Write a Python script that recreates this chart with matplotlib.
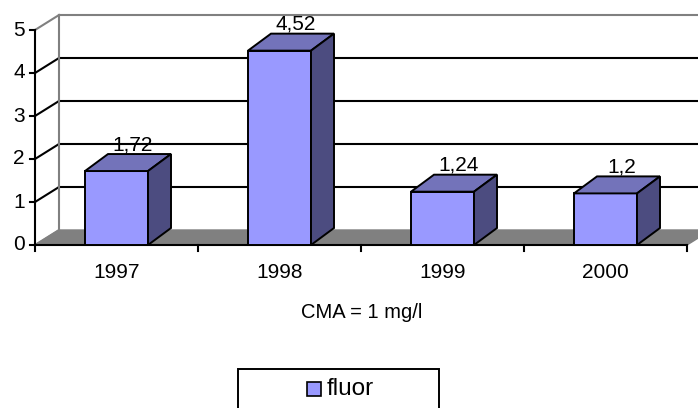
import matplotlib
matplotlib.use("Agg")
import matplotlib.pyplot as plt
from matplotlib.patches import Polygon, Rectangle

categories = ["1997", "1998", "1999", "2000"]
values = [1.72, 4.52, 1.24, 1.2]
value_labels = ["1,72", "4,52", "1,24", "1,2"]
yticks = [0, 1, 2, 3, 4, 5]
series_name = "fluor"
xlabel = "CMA = 1 mg/l"

plt.rcParams['font.family'] = ['Liberation Sans', 'DejaVu Sans']

W, H = 698, 408
fig = plt.figure(figsize=(W / 100, H / 100), dpi=100)
ax = fig.add_axes([0, 0, 1, 1])
ax.set_axis_off()

# pixel <-> data mapping helpers (layout only)
X0, CW = 35, 163.0     # left axis pixel, category width px
Y0, UH = 245, 43.0     # zero pixel, px per unit
def px(p):
    return -0.5 + (p - X0) / CW
def py(p):
    return (Y0 - p) / UH

ax.set_xlim(px(0), px(W))
ax.set_ylim(py(H), py(0))

n = len(categories)
WDX, WDY = 24 / CW, 15 / UH     # wall depth
BDX, BDY = 23 / CW, 17 / UH     # bar depth
HW = 31.5 / CW                   # bar half width
ymax = yticks[-1]
xl, xr = -0.5, n - 0.5

front = '#9999FF'
top = '#7373BA'
side = '#4C4C80'
gray = '#808080'

# back wall gridlines
for t in yticks[1:-1]:
    ax.plot([xl + WDX, px(W) + 1], [t + WDY, t + WDY], color='black', lw=1.5, zorder=1)
    ax.plot([xl, xl + WDX], [t, t + WDY], color='black', lw=1.5, zorder=1)
# top edge and left wall edges in gray
ax.plot([xl + WDX, px(W) + 1], [ymax + WDY, ymax + WDY], color=gray, lw=1.5, zorder=1)
ax.plot([xl, xl + WDX], [ymax, ymax + WDY], color=gray, lw=1.5, zorder=1)
ax.plot([xl + WDX, xl + WDX], [WDY, ymax + WDY], color=gray, lw=1.5, zorder=1)

# floor
floor = Polygon([(xl, 0), (xr, 0), (xr + WDX, WDY), (xl + WDX, WDY)],
                closed=True, facecolor=gray, edgecolor=gray, lw=1, zorder=2)
ax.add_patch(floor)
ax.plot([xl, xl + WDX], [0, WDY], color=gray, lw=1.5, zorder=2)

# y axis
ax.plot([xl, xl], [0, ymax], color='black', lw=1.5, zorder=3)
for t in yticks:
    ax.plot([xl - 5 / CW, xl], [t, t], color='black', lw=1.5, zorder=3)
    ax.text(px(19), t, str(t), ha='center', va='center', fontsize=15, zorder=5)

# x axis
ax.plot([xl, xr], [0, 0], color='black', lw=1.5, zorder=3)
for i in range(n + 1):
    b = -0.5 + i
    ax.plot([b, b], [0, -6 / UH], color='black', lw=1.5, zorder=3)
for i, c in enumerate(categories):
    ax.text(i, py(273), c, ha='center', va='center', fontsize=15, zorder=5)

# bars
for i, v in enumerate(values):
    l, r = i - HW, i + HW
    f = Polygon([(l, 0), (r, 0), (r, v), (l, v)], closed=True,
                facecolor=front, edgecolor='black', lw=1.4, zorder=4)
    tp = Polygon([(l, v), (r, v), (r + BDX, v + BDY), (l + BDX, v + BDY)], closed=True,
                 facecolor=top, edgecolor='black', lw=1.4, zorder=4)
    sd = Polygon([(r, 0), (r + BDX, BDY), (r + BDX, v + BDY), (r, v)], closed=True,
                 facecolor=side, edgecolor='black', lw=1.4, zorder=4)
    for p in (f, tp, sd):
        ax.add_patch(p)
    ax.text(i + BDX * 0.7, v + 21 / UH, value_labels[i], ha='center', va='baseline',
            fontsize=15, zorder=6)

# axis title
ax.text(px(362), py(313), xlabel, ha='center', va='center', fontsize=14.5, zorder=5)

# legend
leg = Rectangle((px(238), py(430)), (439 - 238) / CW, (430 - 369) / UH,
                facecolor='white', edgecolor='black', lw=1.4, zorder=5)
ax.add_patch(leg)
sw = Rectangle((px(307), py(396)), 14 / CW, 14 / UH,
               facecolor=front, edgecolor='black', lw=1.2, zorder=6)
ax.add_patch(sw)
ax.text(px(327), py(389), series_name, ha='left', va='center', fontsize=17.5, zorder=6)

fig.savefig("out.png", dpi=100)
